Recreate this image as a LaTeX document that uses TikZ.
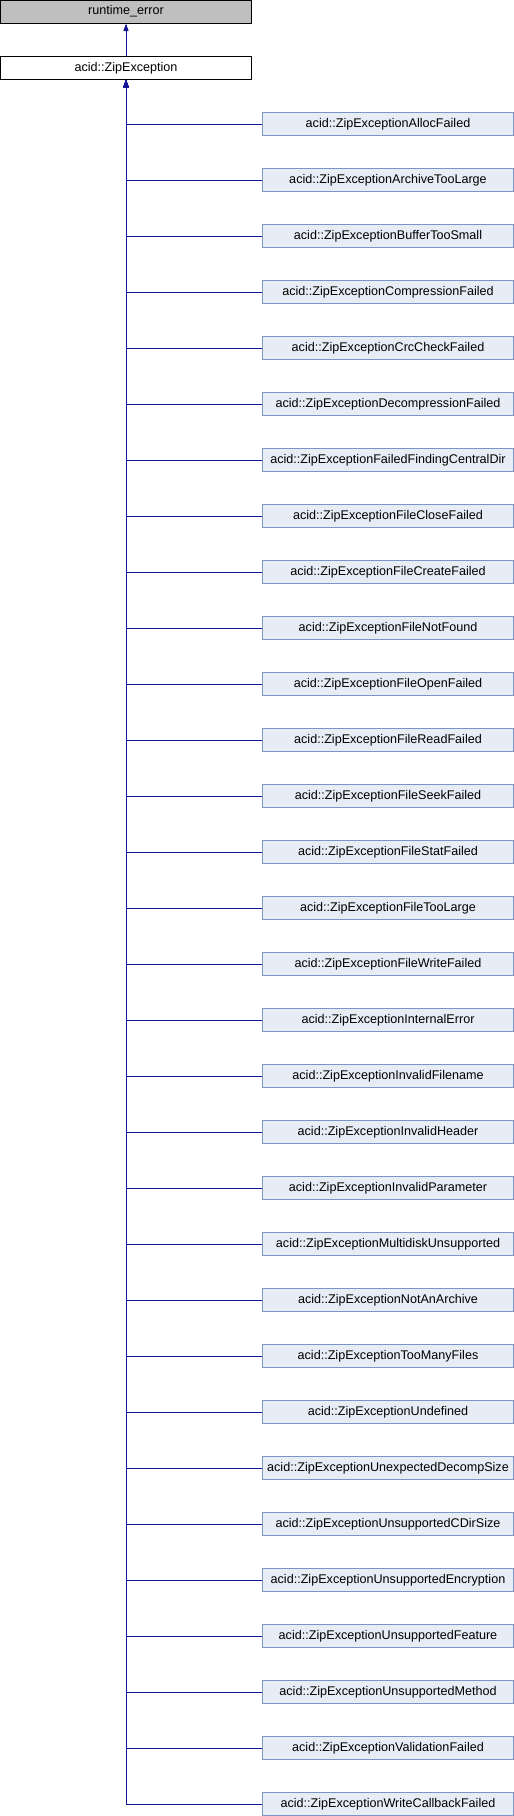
\documentclass[tikz,border=0pt]{standalone}
\usepackage{fontspec}
\setmainfont{Liberation Sans}
\usetikzlibrary{
  arrows.meta
}
\definecolor{edgeblue}{RGB}{20,20,150}
\definecolor{kidfill}{RGB}{232,236,245}
\definecolor{kidline}{RGB}{124,149,201}
\definecolor{basefill}{RGB}{191,191,191}

\begin{document}
\begin{tikzpicture}[x=1pt, y=-1pt,
    classbox/.style={draw, line width=1pt, minimum width=251pt, minimum height=23pt,
        inner sep=0pt, font=\fontsize{12.6}{14}\selectfont},
    basebox/.style={classbox, fill=basefill, draw=black},
    mainbox/.style={classbox, fill=white, draw=black},
    kidbox/.style={classbox, fill=kidfill, draw=kidline},
    inherit/.style={draw=edgeblue, line width=1pt, -{Triangle[length=7.5pt, width=5pt]}}]
  \useasboundingbox (0,0) rectangle (514,1816);

  \node[basebox] (rt) at (126,11.5) {runtime\_error};
  \node[mainbox] (zip) at (126,68) {acid::ZipException};
  \draw[inherit] (zip) -- (rt);

  \foreach \i/\n in {0/AllocFailed,1/ArchiveTooLarge,2/BufferTooSmall,
      3/CompressionFailed,4/CrcCheckFailed,5/DecompressionFailed,
      6/FailedFindingCentralDir,7/FileCloseFailed,8/FileCreateFailed,
      9/FileNotFound,10/FileOpenFailed,11/FileReadFailed,12/FileSeekFailed,
      13/FileStatFailed,14/FileTooLarge,15/FileWriteFailed,16/InternalError,
      17/InvalidFilename,18/InvalidHeader,19/InvalidParameter,
      20/MultidiskUnsupported,21/NotAnArchive,22/TooManyFiles,23/Undefined,
      24/UnexpectedDecompSize,25/UnsupportedCDirSize,26/UnsupportedEncryption,
      27/UnsupportedFeature,28/UnsupportedMethod,29/ValidationFailed,
      30/WriteCallbackFailed} {
      \node[kidbox] (kid\i) at (388,124+56*\i) {acid::ZipException\n};
      \draw[inherit] (kid\i.west) -| (zip.south);
    }
\end{tikzpicture}
\end{document}
